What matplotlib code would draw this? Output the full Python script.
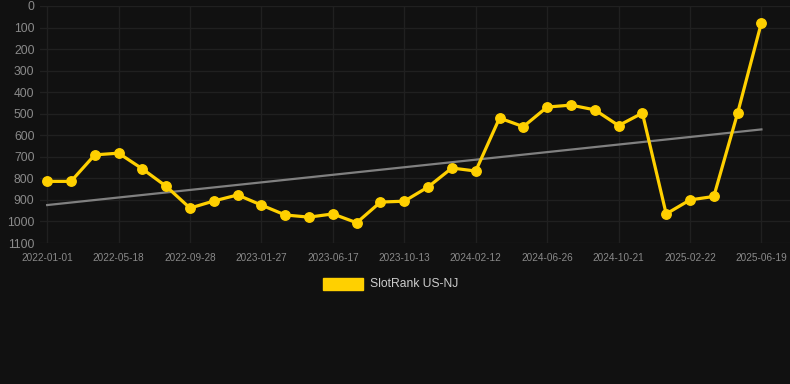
import numpy as np
import matplotlib
matplotlib.use('Agg')
import matplotlib.pyplot as plt

# tick labels shown under every third point
tick_labels = ['2022-01-01', '2022-05-18', '2022-09-28', '2023-01-27', '2023-06-17',
               '2023-10-13', '2024-02-12', '2024-06-26', '2024-10-21', '2025-02-22',
               '2025-06-19']

# rank values, one every ~6 weeks
rank = [814, 814, 691, 683, 756, 837, 938, 905, 877, 924,
        970, 980, 965, 1006, 910, 906, 840, 752, 766, 520,
        560, 469, 460, 482, 555, 497, 965, 900, 884, 497, 77]

series_name = 'SlotRank US-NJ'

plt.rcParams['font.family'] = ['Liberation Sans', 'DejaVu Sans']

bg = '#111111'
fig = plt.figure(figsize=(7.9, 3.84), dpi=100, facecolor=bg)
ax = fig.add_axes([40 / 790, 1 - 243 / 384, 750 / 790, 237 / 384], facecolor=bg)

x = np.arange(len(rank))
y = np.array(rank, dtype=float)

# trend line (linear fit)
coef = np.polyfit(x, y, 1)
ax.plot(x, np.polyval(coef, x), color='#808080', lw=1.6, zorder=2)

ax.plot(x, y, color='#FFD000', lw=2.3, marker='o', ms=6.8, zorder=3)

ax.set_ylim(1100, 0)
ax.set_yticks(np.arange(0, 1101, 100))
ax.set_xlim(-0.3, len(rank) - 1 + 1.2)
ax.set_xticks(x[::3])
ax.set_xticklabels(tick_labels)

ax.grid(True, color='#202020', lw=1.0)
ax.set_axisbelow(True)
for s in ax.spines.values():
    s.set_visible(False)
ax.tick_params(axis='y', length=0, pad=4, labelsize=8.7, labelcolor='#8a8a8a')
ax.tick_params(axis='x', length=0, pad=7, labelsize=7.2, labelcolor='#8a8a8a')

# legend below the plot
fig.patches.append(plt.Rectangle((323 / 790, 1 - 290 / 384), 40 / 790, 12 / 384,
                                 transform=fig.transFigure, color='#FFD000'))
fig.text(370 / 790, 1 - 284 / 384, series_name, color='#cccccc', fontsize=8.7,
         va='center', ha='left')

fig.savefig('out.png', dpi=100, facecolor=bg)
